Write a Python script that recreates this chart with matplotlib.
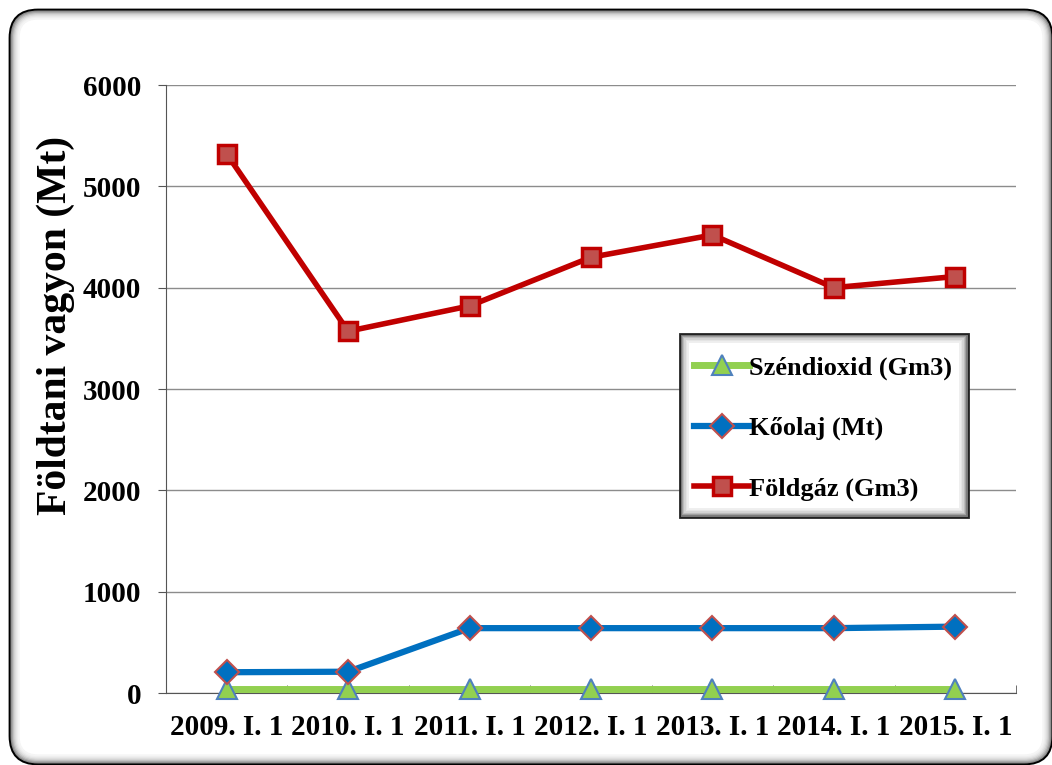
import matplotlib
matplotlib.use("Agg")
import matplotlib.pyplot as plt
from matplotlib.patches import FancyBboxPatch, Rectangle

# data
dates = ['2009. I. 1', '2010. I. 1', '2011. I. 1', '2012. I. 1',
         '2013. I. 1', '2014. I. 1', '2015. I. 1']
szendioxid = [40, 40, 40, 40, 40, 40, 40]
koolaj = [205, 210, 640, 640, 640, 640, 655]
foldgaz = [5320, 3570, 3820, 4300, 4520, 4000, 4110]

plt.rcParams['font.family'] = ['Liberation Serif', 'DejaVu Serif']
plt.rcParams['font.weight'] = 'bold'

fig = plt.figure(figsize=(10.52, 7.65), dpi=100)

# rounded outer frame with an inner shadow (pixel coordinates, origin bottom left)
frame = FancyBboxPatch((10, 1), 1042, 754, boxstyle="round,pad=0,rounding_size=28",
                       transform=None, facecolor='white', edgecolor='black', linewidth=2, zorder=-3)
fig.patches.append(frame)
greys = ['#8a8a8a', '#a8a8a8', '#c2c2c2', '#d6d6d6', '#e4e4e4', '#eeeeee', '#f5f5f5']
for i, g in enumerate(greys):
    d = 1.5 + i * 1.2
    fig.patches.append(FancyBboxPatch((10 + d, 1 + d), 1042 - 2 * d, 754 - 2 * d,
                                      boxstyle="round,pad=0,rounding_size=%g" % (28 - d),
                                      transform=None, facecolor='none', edgecolor=g,
                                      linewidth=1.4, zorder=-2))

ax = fig.add_axes([166 / 1052, 1 - 693 / 765, (1016 - 166) / 1052, (693 - 85) / 765])
ax.set_facecolor('none')
x = range(len(dates))

ax.plot(x, szendioxid, color='#92D050', lw=5, marker='^', markersize=15,
        markerfacecolor='#92D050', markeredgecolor='#4F81BD', markeredgewidth=1.5,
        label='Széndioxid (Gm3)', zorder=3, clip_on=False)
ax.plot(x, koolaj, color='#0070C0', lw=4.5, marker='D', markersize=12,
        markerfacecolor='#0070C0', markeredgecolor='#C0504D', markeredgewidth=1.5,
        label='Kőolaj (Mt)', zorder=4, clip_on=False)
ax.plot(x, foldgaz, color='#C00000', lw=4, marker='s', markersize=13,
        markerfacecolor='#C0504D', markeredgecolor='#C00000', markeredgewidth=2.5,
        label='Földgáz (Gm3)', zorder=5, clip_on=False)

ax.set_xlim(-0.5, 6.5)
ax.set_ylim(0, 6000)
ax.set_yticks(range(0, 6001, 1000))
ax.set_xticks(x)
ax.set_xticklabels(dates, fontsize=21, fontweight='bold')
ax.set_xticks([i + 0.5 for i in range(-1, 7)], minor=True)
ax.tick_params(axis='x', which='major', length=0, pad=15)
ax.tick_params(axis='x', which='minor', length=6, direction='in', color='#555555')
ax.tick_params(axis='y', labelsize=21, length=6, direction='out', pad=12, color='#555555')
for lab in ax.get_yticklabels():
    lab.set_fontweight('bold')
ax.grid(axis='y', color='#8c8c8c', lw=1)
ax.set_axisbelow(True)
for s in ['top', 'right']:
    ax.spines[s].set_visible(False)
ax.spines['left'].set_color('#555555')
ax.spines['bottom'].set_color('#555555')
ax.set_ylabel('Földtani vagyon (Mt)', fontsize=30, fontweight='bold')
ax.yaxis.set_label_coords(-0.107, 0.605)

# legend box with inner shadow, drawn in pixel coordinates
bx0, by0, bw, bh = 680, 765 - 517, 288, 183
fig.patches.append(Rectangle((bx0, by0), bw, bh, transform=None, facecolor='white',
                             edgecolor='#222222', linewidth=2, zorder=8))
for i, g in enumerate(['#7a7a7a', '#9e9e9e', '#bdbdbd', '#d4d4d4', '#e4e4e4', '#efefef']):
    d = 1.5 + i * 1.3
    fig.patches.append(Rectangle((bx0 + d, by0 + d), bw - 2 * d, bh - 2 * d, transform=None,
                                 facecolor='none', edgecolor=g, linewidth=1.4, zorder=8.5))

handles, labels = ax.get_legend_handles_labels()
leg = fig.legend(handles, labels, loc='upper left', bbox_to_anchor=(694 / 1052, 1 - 356 / 765),
                 fontsize=19, frameon=False,
                 handlelength=2.1, handletextpad=0.0, labelspacing=1.38,
                 borderpad=0, borderaxespad=0)
leg.set_zorder(10)

fig.savefig('out.png', dpi=100)
